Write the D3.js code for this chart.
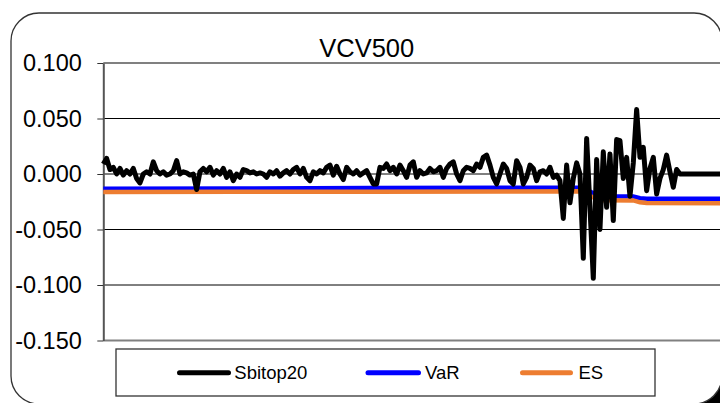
<!DOCTYPE html>
<html>
<head>
<meta charset="utf-8">
<script src="https://cdn.jsdelivr.net/npm/d3@7"></script>
<style>
  html, body { margin: 0; padding: 0; background: #fff; }
  svg { display: block; font-family: "Liberation Sans", Arial, sans-serif; }
</style>
</head>
<body>
<svg id="chart" width="720" height="403"></svg>
<script>
// ---- data ----
const chartTitle = "VCV500";
const seriesNames = ["Sbitop20", "VaR", "ES"];
const seriesColors = ["#000000", "#0000ff", "#ed7d31"];
const yTicks = [0.1, 0.05, 0, -0.05, -0.1, -0.15];

// daily returns of the index (one value per trading day)
const sbitop20 = [
  0.009, 0.014, 0.004, 0.006, 0.000, 0.005, -0.001, 0.003, 0.000, 0.005,
  -0.004, -0.008, 0.000, 0.002, 0.000, 0.011, 0.003, 0.000, 0.002, -0.001,
  0.000, 0.003, 0.012, 0.000, 0.002, 0.001, -0.001, 0.000, -0.014, 0.002,
  0.005, 0.002, 0.006, -0.001, 0.003, 0.000, 0.005, -0.003, 0.002, -0.006,
  0.000, -0.003, 0.004, 0.003, 0.001, 0.002, 0.000, 0.001, 0.000, -0.003,
  0.002, 0.000, 0.003, -0.002, 0.001, 0.003, 0.000, 0.004, 0.006, 0.000,
  0.005, -0.003, -0.006, 0.002, 0.000, 0.003, 0.001, 0.006, 0.008, -0.001,
  0.007, 0.000, -0.005, 0.006,
  0.002, 0.000, 0.003, -0.001, 0.001, 0.003, -0.003, -0.009, -0.009, 0.006,
  0.005, 0.009, 0.003, 0.006, 0.000, 0.008, 0.003, -0.003, 0.008, 0.011,
  -0.003, 0.003, 0.000, 0.001, 0.005, 0.002, 0.003, 0.006, -0.003, 0.005,
  0.009, 0.011, 0.000, -0.006, 0.003, 0.006, 0.005, 0.003, 0.009, 0.006,
  0.015, 0.017, 0.008, -0.003, -0.009, 0.000, 0.009, 0.005, -0.006, -0.009,
  0.012, 0.006, -0.009, -0.003, 0.008, 0.005, -0.006, 0.002, 0.003, 0.000,
  0.006, -0.003, -0.001, -0.006,
  -0.040, 0.008, -0.026, -0.004, 0.010, 0.000, -0.076, 0.032, -0.030, -0.094,
  0.013, -0.050, 0.020, -0.030, 0.018, -0.042, 0.031, 0.030, -0.004, 0.015,
  -0.020, 0.010, 0.058, 0.015, 0.024, -0.015, 0.005, 0.015, -0.018, -0.004,
  0.004, 0.017, 0.002, -0.012, 0.004, 0.000,
  0, 0, 0, 0, 0, 0, 0, 0, 0, 0, 0, 0, 0
];

// VaR and ES estimates as [day, value]
const varPoints = [
  [0, -0.0132], [40, -0.0130], [80, -0.0127], [120, -0.0124], [144, -0.0123],
  [145, -0.0133], [146, -0.0158], [148, -0.0190], [150, -0.0200], [159, -0.0202],
  [161, -0.0218], [163, -0.0222], [186, -0.0224]
];
const esPoints = [
  [0, -0.0163], [40, -0.0161], [80, -0.0159], [120, -0.0157], [144, -0.0156],
  [145, -0.0170], [146, -0.0198], [148, -0.0222], [150, -0.0236], [159, -0.0238],
  [161, -0.0255], [163, -0.0262], [186, -0.0264]
];

// ---- layout ----
const W = 720, H = 403;
const plot = { left: 103.3, right: 723.3, top: 63, bottom: 340.5 };
const frame = { x0: 11, y0: 13, x1: 722, y1: 404, r: 28 };

const svg = d3.select("#chart");

// outer frame; the area outside its bottom-right corner is dark
{
  const cx = frame.x1 - frame.r, cy = frame.y1 - frame.r;
  const bx = cx + Math.sqrt(frame.r * frame.r - (H - cy) * (H - cy));
  const ry = cy + Math.sqrt(frame.r * frame.r - (W - cx) * (W - cx));
  svg.append("path")
    .attr("d", `M${bx},${H} A${frame.r},${frame.r} 0 0 0 ${W},${ry} L${W},${H} Z`)
    .attr("fill", "#000");
}
svg.append("rect")
  .attr("x", frame.x0).attr("y", frame.y0)
  .attr("width", frame.x1 - frame.x0).attr("height", frame.y1 - frame.y0)
  .attr("rx", frame.r).attr("ry", frame.r)
  .attr("fill", "none").attr("stroke", "#333").attr("stroke-width", 1.3);

// scales
const x = d3.scaleLinear().domain([0, sbitop20.length - 1]).range([plot.left, plot.right]);
const y = d3.scaleLinear().domain([-0.15, 0.1]).range([plot.bottom, plot.top]);

// horizontal gridlines
svg.append("g").selectAll("line")
  .data(yTicks.filter(d => d < 0.1 && d > -0.15))
  .join("line")
  .attr("x1", plot.left).attr("x2", plot.right)
  .attr("y1", d => y(d)).attr("y2", d => y(d))
  .attr("stroke", "#000").attr("stroke-width", 1);

// plot area top and bottom borders
svg.append("g").selectAll("line")
  .data([0.1, -0.15])
  .join("line")
  .attr("x1", plot.left).attr("x2", plot.right)
  .attr("y1", d => y(d)).attr("y2", d => y(d))
  .attr("stroke", "#808080").attr("stroke-width", 2);

// y axis
const yAxis = d3.axisLeft(y)
  .tickValues(yTicks)
  .tickFormat(d => d.toFixed(3))
  .tickSize(6)
  .tickSizeOuter(0)
  .tickPadding(15.5);
const gy = svg.append("g").attr("transform", `translate(${plot.left},0)`).call(yAxis);
gy.select(".domain").attr("stroke", "#555").attr("stroke-width", 2);
gy.selectAll(".tick line").attr("stroke", "#333").attr("stroke-width", 1);
gy.selectAll(".tick text")
  .attr("fill", "#000")
  .style("font-family", '"Liberation Sans", Arial, sans-serif')
  .style("font-size", "23.5px");

// series
const line = d3.line().x(d => x(d[0])).y(d => y(d[1]));
const sbData = sbitop20.map((v, i) => [i, v]);

svg.append("path").datum(varPoints)
  .attr("d", line).attr("fill", "none")
  .attr("stroke", seriesColors[1]).attr("stroke-width", 4.5);
svg.append("path").datum(esPoints)
  .attr("d", line).attr("fill", "none")
  .attr("stroke", seriesColors[2]).attr("stroke-width", 4.5);
svg.append("path").datum(sbData)
  .attr("d", line).attr("fill", "none")
  .attr("stroke", seriesColors[0]).attr("stroke-width", 5)
  .attr("stroke-linejoin", "round");

// title
svg.append("text")
  .attr("x", 366.7).attr("y", 56.7)
  .attr("text-anchor", "middle")
  .style("font-size", "25.5px")
  .attr("fill", "#000")
  .text(chartTitle);

// legend
const legend = { x0: 116, y0: 349, x1: 655, y1: 396 };
svg.append("rect")
  .attr("x", legend.x0).attr("y", legend.y0)
  .attr("width", legend.x1 - legend.x0).attr("height", legend.y1 - legend.y0)
  .attr("fill", "#fff").attr("stroke", "#333").attr("stroke-width", 1.3);

const legendItems = [
  { name: seriesNames[0], color: seriesColors[0], lx0: 179.5, lx1: 228.5, tx: 234.3 },
  { name: seriesNames[1], color: seriesColors[1], lx0: 368, lx1: 418.5, tx: 425 },
  { name: seriesNames[2], color: seriesColors[2], lx0: 522.5, lx1: 570.5, tx: 578.5 }
];
const ly = 372.7;
const li = svg.append("g").selectAll("g").data(legendItems).join("g");
li.append("line")
  .attr("x1", d => d.lx0).attr("x2", d => d.lx1)
  .attr("y1", ly).attr("y2", ly)
  .attr("stroke", d => d.color).attr("stroke-width", 5)
  .attr("stroke-linecap", "round");
li.append("text")
  .attr("x", d => d.tx).attr("y", ly)
  .attr("dy", "0.35em")
  .style("font-size", "18.5px")
  .attr("fill", "#000")
  .text(d => d.name);
</script>
</body>
</html>
